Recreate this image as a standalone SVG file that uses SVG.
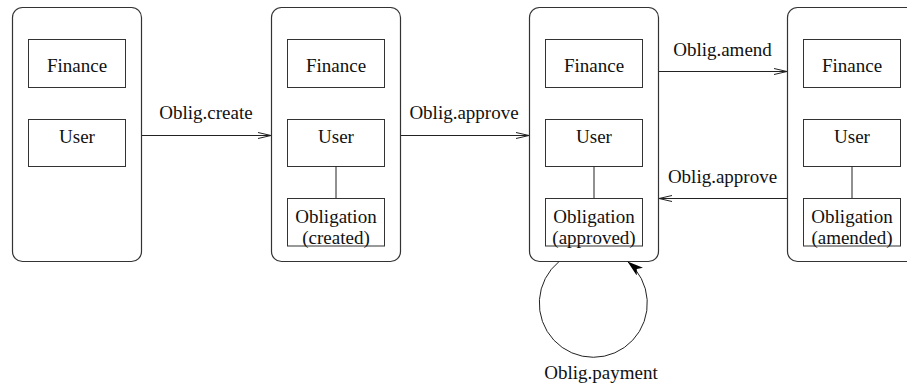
<svg xmlns="http://www.w3.org/2000/svg" width="907" height="387" viewBox="0 0 907 387">
  <style>
    .outer { fill: none; stroke: #333; stroke-width: 1.2; }
    .inner { fill: none; stroke: #333; stroke-width: 1; }
    .link { fill: none; stroke: #222; stroke-width: 1; }
    .edge { fill: none; stroke: #222; stroke-width: 1; }
    .lbl { font-family: 'Liberation Serif', 'DejaVu Serif', serif; font-size: 19px; fill: #111; text-anchor: middle; }
  </style>
  <defs>
    <marker id="open" viewBox="0 0 14 8" refX="13" refY="4" markerWidth="14" markerHeight="8" markerUnits="userSpaceOnUse" orient="auto">
      <path d="M0,1 L13,4 L0,7" fill="none" stroke="#222" stroke-width="1"/>
    </marker>
    <marker id="solid" viewBox="0 0 16 10" refX="16" refY="5" markerWidth="16" markerHeight="10" markerUnits="userSpaceOnUse" orient="auto">
      <path d="M0,0 L16,5 L0,10 L4,5 Z" fill="#000"/>
    </marker>
  </defs>

  <!-- State 1: Finance and User only -->
  <g id="state1">
    <rect class="outer" x="12.5" y="7.5" width="129" height="254" rx="10"/>
    <rect class="inner" x="28.5" y="39.5" width="97" height="48"/>
    <text class="lbl" font-family="Liberation Serif, serif" x="77" y="72">Finance</text>
    <rect class="inner" x="28.5" y="119.5" width="97" height="47"/>
    <text class="lbl" font-family="Liberation Serif, serif" x="77" y="143">User</text>
  </g>

  <!-- State 2: obligation created -->
  <g id="state2">
    <rect class="outer" x="271.5" y="7.5" width="129" height="254" rx="10"/>
    <rect class="inner" x="287.5" y="39.5" width="97" height="48"/>
    <text class="lbl" x="336" y="72">Finance</text>
    <rect class="inner" x="287.5" y="119.5" width="97" height="47"/>
    <text class="lbl" x="336" y="143">User</text>
    <line class="link" x1="336" y1="166.5" x2="336" y2="198.5"/>
    <rect class="inner" x="287.5" y="198.5" width="97" height="47.5"/>
    <text class="lbl" x="336" y="223">Obligation</text>
    <text class="lbl" x="336" y="244">(created)</text>
  </g>

  <!-- State 3: obligation approved -->
  <g id="state3">
    <rect class="outer" x="529.5" y="7.5" width="129" height="254" rx="10"/>
    <rect class="inner" x="545.5" y="39.5" width="97" height="48"/>
    <text class="lbl" x="594" y="72">Finance</text>
    <rect class="inner" x="545.5" y="119.5" width="97" height="47"/>
    <text class="lbl" x="594" y="143">User</text>
    <line class="link" x1="594" y1="166.5" x2="594" y2="198.5"/>
    <rect class="inner" x="545.5" y="198.5" width="97" height="47.5"/>
    <text class="lbl" x="594" y="223">Obligation</text>
    <text class="lbl" x="594" y="244">(approved)</text>
  </g>

  <!-- State 4: obligation amended -->
  <g id="state4">
    <rect class="outer" x="787.5" y="7.5" width="129" height="254" rx="10"/>
    <rect class="inner" x="803.5" y="39.5" width="97" height="48"/>
    <text class="lbl" x="852" y="72">Finance</text>
    <rect class="inner" x="803.5" y="119.5" width="97" height="47"/>
    <text class="lbl" x="852" y="143">User</text>
    <line class="link" x1="852" y1="166.5" x2="852" y2="198.5"/>
    <rect class="inner" x="803.5" y="198.5" width="97" height="47.5"/>
    <text class="lbl" x="852" y="223">Obligation</text>
    <text class="lbl" x="852" y="244">(amended)</text>
  </g>

  <!-- Transitions -->
  <g id="connectors">
    <line class="edge" x1="142" y1="135.5" x2="271" y2="135.5" marker-end="url(#open)"/>
    <text class="lbl" x="206" y="119">Oblig.create</text>

    <line class="edge" x1="401" y1="135.5" x2="529" y2="135.5" marker-end="url(#open)"/>
    <text class="lbl" x="464" y="119">Oblig.approve</text>

    <line class="edge" x1="659" y1="71.5" x2="787" y2="71.5" marker-end="url(#open)"/>
    <text class="lbl" x="722.5" y="56">Oblig.amend</text>

    <line class="edge" x1="787" y1="198.5" x2="659" y2="198.5" marker-end="url(#open)"/>
    <text class="lbl" x="722.5" y="183">Oblig.approve</text>

    <path class="edge" d="M559.1,261.5 A54,54 0 1 0 627.5,261.5" marker-end="url(#solid)"/>
    <text class="lbl" x="601" y="379">Oblig.payment</text>
  </g>
</svg>
